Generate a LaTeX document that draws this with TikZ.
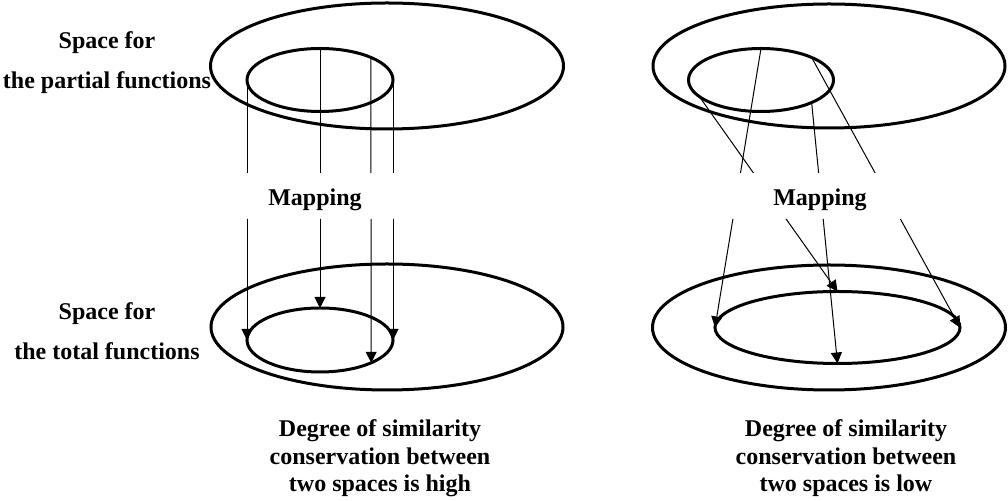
\documentclass[tikz,border=0pt]{standalone}
\usepackage{fontspec}
\setmainfont{Liberation Serif}
\usetikzlibrary{shapes.geometric,arrows.meta}
\begin{document}
\begin{tikzpicture}[x=0.5pt,y=-0.5pt,
  space/.style={ellipse, draw, line width=1.5pt, inner sep=0pt, outer sep=0pt},
  map/.style={line width=0.5pt, -{Triangle[length=5.5pt,width=5.5pt]}},
  lbl/.style={font=\fontsize{12pt}{20pt}\selectfont\bfseries, align=center, inner sep=0pt, anchor=base},
  lblb/.style={lbl, font=\fontsize{12pt}{13.75pt}\selectfont\bfseries}]
\useasboundingbox (0,0) rectangle (1008,501);
% spaces
\node[space, minimum width=176.5pt, minimum height=63pt] (tlo) at (387,66) {};
\node[space, minimum width=73pt, minimum height=31.5pt] (tli) at (320,80) {};
\node[space, minimum width=176pt, minimum height=62pt] (tro) at (829,66) {};
\node[space, minimum width=72.5pt, minimum height=31.5pt] (tri) at (761,80) {};
\node[space, minimum width=176pt, minimum height=63pt] (blo) at (387,327) {};
\node[space, minimum width=73pt, minimum height=32pt] (bli) at (320,340) {};
\node[space, minimum width=176.5pt, minimum height=62.5pt] (bro) at (829,327.5) {};
\node[space, minimum width=122.5pt, minimum height=36pt] (bri) at (837.5,327.5) {};
% labels (anchor = baseline of the last line)
\node[lbl] (spart) at (107,89) {Space for\\the partial functions};
\node[lbl] (stot) at (107,360) {Space for\\the total functions};
\node[lbl] (mapL) at (315,206) {Mapping};
\node[lbl] (mapR) at (820,206) {Mapping};
\node[lblb] (degL) at (380,492) {Degree of similarity\\conservation between\\two spaces is high};
\node[lblb] (degR) at (846,492) {Degree of similarity\\conservation between\\two spaces is low};
% mappings, interrupted around the Mapping labels
\begin{scope}
  \clip (0,0) rectangle (1008,173) (0,219) rectangle (1008,501);
  \draw[map] (tli.west) -- (bli.west);
  \draw[map] (tli.north) -- (bli.north);
  \draw[map] (tli.24) -- (bli.-24);
  \draw[map] (tli.east) -- (bli.east);
  \draw[map] (tri.north) -- (bri.west);
  \draw[map] (tri.195) -- (bri.north);
  \draw[map] (tri.336) -- (bri.south);
  \draw[map] (tri.24) -- (bri.east);
\end{scope}
\end{tikzpicture}
\end{document}
